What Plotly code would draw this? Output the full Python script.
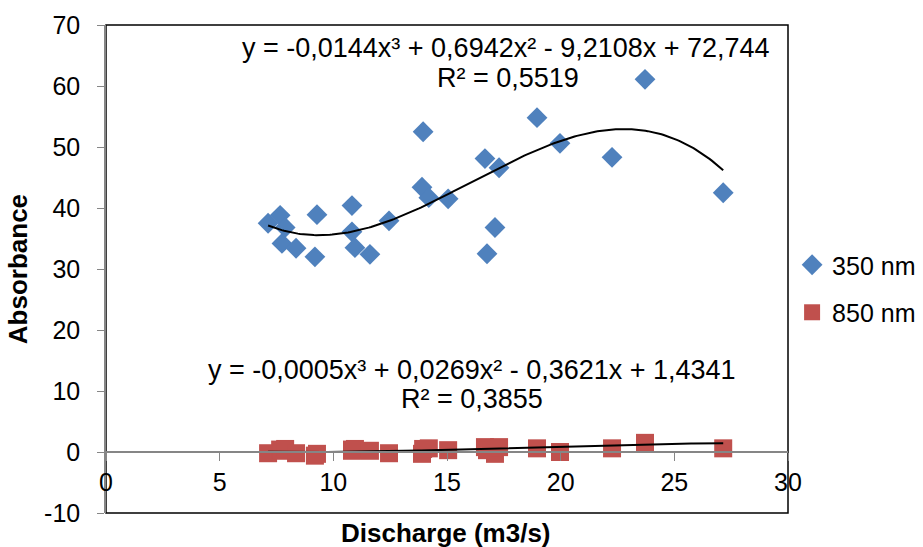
import numpy as np
import plotly.graph_objects as go

# Data
discharge = [7.13, 7.66, 7.74, 7.88, 8.36, 9.19, 9.28, 10.82, 10.82, 10.95, 11.61, 12.45,
             13.90, 13.95, 14.20, 15.05, 16.67, 16.76, 17.11, 17.29, 18.96, 19.97, 22.26,
             23.71, 27.15]
abs_350 = [37.5, 38.8, 34.2, 36.8, 33.4, 32.0, 38.9, 40.4, 36.1, 33.5, 32.4, 37.9,
           43.4, 52.5, 41.7, 41.5, 48.1, 32.5, 36.8, 46.6, 54.8, 50.6, 48.3,
           61.1, 42.5]
abs_850 = [-0.2, 0.4, 0.2, 0.5, -0.2, -0.6, -0.3, 0.4, 0.2, 0.5, 0.2, -0.2,
           -0.3, 0.5, 0.6, 0.3, 0.8, 0.3, -0.3, 0.8, 0.6, 0.0, 0.6,
           1.5, 0.6]

# Trendline coefficients as displayed in the chart (cubic)
coef_350 = [-0.0144, 0.6942, -9.2108, 72.744]
coef_850 = [-0.0005, 0.0269, -0.3621, 1.4341]
eq_350 = ["y = -0,0144x³ + 0,6942x² - 9,2108x + 72,744", "R² = 0,5519"]
eq_850 = ["y = -0,0005x³ + 0,0269x² - 0,3621x + 1,4341", "R² = 0,3855"]

x_ticks = [0, 5, 10, 15, 20, 25, 30]
x_ticktext = ["0", "5", "10", "15", "20", "25", "30"]
y_ticks = [-10, 0, 10, 20, 30, 40, 50, 60, 70]
y_ticktext = ["-10", "0", "10", "20", "30", "40", "50", "60", "70"]

BLUE = "#4F81BD"
RED = "#C0504D"
FONT = "Liberation Sans, Arial, sans-serif"
FS = 26
EFS = 27
TFS = 25
LFS = 25

xs = np.linspace(min(discharge), max(discharge), 200)

fig = go.Figure()
fig.add_trace(go.Scatter(x=discharge, y=abs_350, mode="markers", name="350 nm",
                         marker=dict(symbol="diamond", size=16, color=BLUE),
                         legendgroup="a"))
fig.add_trace(go.Scatter(x=discharge, y=abs_850, mode="markers", name="850 nm",
                         marker=dict(symbol="square", size=18, color=RED),
                         legendgroup="b"))
fig.add_trace(go.Scatter(x=xs, y=np.polyval(coef_350, xs), mode="lines",
                         line=dict(color="black", width=2), showlegend=False,
                         hoverinfo="skip"))
fig.add_trace(go.Scatter(x=xs, y=np.polyval(coef_850, xs), mode="lines",
                         line=dict(color="black", width=2), showlegend=False,
                         hoverinfo="skip"))

fig.update_layout(
    width=923, height=547,
    margin=dict(l=106, r=135, t=25, b=34, autoexpand=False),
    paper_bgcolor="white", plot_bgcolor="white",
    font=dict(family=FONT, size=FS, color="black"),
    showlegend=True,
    legend=dict(x=1.006, y=0.46, xanchor="left", yanchor="middle",
                font=dict(size=LFS), traceorder="grouped", tracegroupgap=12,
                itemwidth=30, bgcolor="rgba(0,0,0,0)"),
    xaxis=dict(range=[0, 30], tickvals=x_ticks, ticktext=x_ticktext,
               showgrid=False, zeroline=False,
               showline=True, linecolor="#868686", linewidth=1.5,
               ticks="outside", ticklen=8, tickcolor="#868686",
               tickfont=dict(size=TFS), ticklabelstandoff=0,
               anchor="free", position=0.125),
    yaxis=dict(range=[-10, 70], tickvals=y_ticks, ticktext=y_ticktext,
               showgrid=False, zeroline=False,
               showline=True, linecolor="#868686", linewidth=1.5,
               ticks="outside", ticklen=7, tickcolor="#868686",
               tickfont=dict(size=TFS), ticklabelstandoff=12),
    shapes=[dict(type="rect", xref="paper", yref="paper", x0=0, x1=1, y0=0, y1=1,
                 line=dict(color="black", width=1.5), layer="below")],
    annotations=[
        dict(text="<b>Discharge (m3/s)</b>", xref="paper", yref="paper", x=0.499, y=-0.040,
             showarrow=False, xanchor="center", yanchor="middle", font=dict(size=FS)),
        dict(text="<b>Absorbance</b>", xref="paper", yref="paper", x=-0.128, y=0.499,
             showarrow=False, xanchor="center", yanchor="middle", textangle=-90,
             font=dict(size=FS)),
        dict(text=eq_350[0], xref="paper", yref="paper", x=0.587, y=0.953,
             showarrow=False, xanchor="center", yanchor="middle", font=dict(size=EFS)),
        dict(text=eq_350[1], xref="paper", yref="paper", x=0.589, y=0.892,
             showarrow=False, xanchor="center", yanchor="middle", font=dict(size=EFS)),
        dict(text=eq_850[0], xref="paper", yref="paper", x=0.536, y=0.294,
             showarrow=False, xanchor="center", yanchor="middle", font=dict(size=EFS)),
        dict(text=eq_850[1], xref="paper", yref="paper", x=0.536, y=0.233,
             showarrow=False, xanchor="center", yanchor="middle", font=dict(size=EFS)),
    ],
)

fig.write_html("out.html", config={"displayModeBar": False},
               post_script="document.body.style.margin='0';")
